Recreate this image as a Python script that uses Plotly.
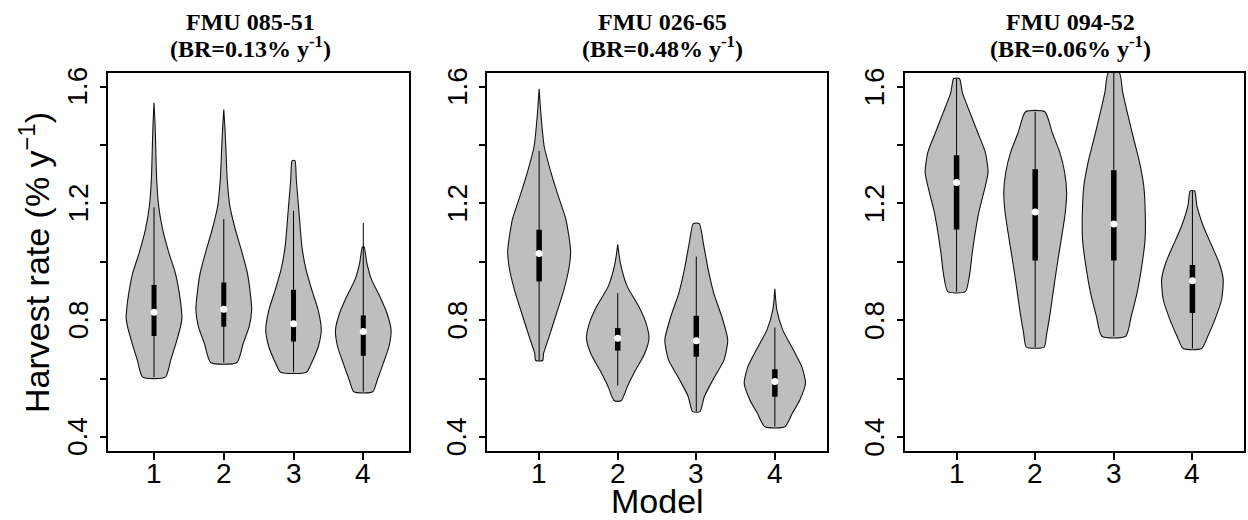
import plotly.graph_objects as go

# ---------------- data ----------------
models = [1, 2, 3, 4]
model_labels = ["1", "2", "3", "4"]
panel_names = ["FMU 085-51", "FMU 026-65", "FMU 094-52"]
panel_br = ["0.13", "0.48", "0.06"]
y_tick_vals = [0.4, 0.6, 0.8, 1.0, 1.2, 1.4, 1.6]
y_label_vals = [0.4, 0.8, 1.2, 1.6]
y_label_text = ["0.4", "0.8", "1.2", "1.6"]

# violin outlines: harvest-rate levels and half-widths (model-axis units)
fmu085_m1_y = [0.605, 0.664, 0.721, 0.778, 0.808, 0.836, 0.893, 0.962, 1.030, 1.110, 1.190, 1.282, 1.396, 1.470, 1.545]
fmu085_m1_w = [0.162, 0.240, 0.314, 0.380, 0.400, 0.393, 0.362, 0.305, 0.214, 0.124, 0.067, 0.038, 0.024, 0.015, 0.0]
fmu085_m2_y = [0.655, 0.721, 0.778, 0.836, 0.893, 0.962, 1.030, 1.110, 1.190, 1.282, 1.396, 1.460, 1.522]
fmu085_m2_w = [0.188, 0.279, 0.364, 0.400, 0.380, 0.338, 0.264, 0.167, 0.088, 0.050, 0.029, 0.016, 0.0]
fmu085_m3_y = [0.622, 0.653, 0.710, 0.767, 0.836, 0.904, 0.973, 1.053, 1.168, 1.282, 1.347]
fmu085_m3_w = [0.186, 0.257, 0.355, 0.398, 0.352, 0.262, 0.179, 0.120, 0.079, 0.040, 0.020]
fmu085_m4_y = [0.555, 0.596, 0.653, 0.710, 0.767, 0.824, 0.881, 0.939, 0.996, 1.051]
fmu085_m4_w = [0.136, 0.202, 0.288, 0.369, 0.398, 0.340, 0.238, 0.119, 0.052, 0.012]

fmu026_m1_y = [0.662, 0.687, 0.744, 0.824, 0.904, 0.984, 1.040, 1.145, 1.225, 1.305, 1.396, 1.511, 1.593]
fmu026_m1_w = [0.044, 0.057, 0.127, 0.222, 0.315, 0.383, 0.400, 0.341, 0.244, 0.152, 0.064, 0.021, 0.0]
fmu026_m2_y = [0.524, 0.573, 0.630, 0.687, 0.739, 0.790, 0.847, 0.916, 0.996, 1.059]
fmu026_m2_w = [0.044, 0.123, 0.229, 0.345, 0.398, 0.360, 0.269, 0.121, 0.034, 0.0]
fmu026_m3_y = [0.487, 0.538, 0.596, 0.664, 0.733, 0.813, 0.893, 0.973, 1.065, 1.131]
fmu026_m3_w = [0.047, 0.102, 0.212, 0.353, 0.400, 0.324, 0.222, 0.152, 0.089, 0.038]
fmu026_m4_y = [0.435, 0.481, 0.527, 0.584, 0.641, 0.698, 0.767, 0.836, 0.908]
fmu026_m4_w = [0.127, 0.222, 0.318, 0.390, 0.343, 0.237, 0.100, 0.025, 0.0]

fmu094_m1_y = [0.898, 0.963, 1.031, 1.100, 1.169, 1.237, 1.306, 1.375, 1.443, 1.512, 1.580, 1.628]
fmu094_m1_w = [0.112, 0.169, 0.199, 0.237, 0.282, 0.345, 0.400, 0.366, 0.269, 0.169, 0.074, 0.036]
fmu094_m2_y = [0.708, 0.757, 0.825, 0.917, 1.008, 1.100, 1.169, 1.237, 1.306, 1.375, 1.443, 1.514]
fmu094_m2_w = [0.112, 0.148, 0.191, 0.239, 0.290, 0.345, 0.383, 0.400, 0.375, 0.313, 0.216, 0.123]
fmu094_m3_y = [0.745, 0.814, 0.894, 0.986, 1.077, 1.169, 1.260, 1.340, 1.420, 1.500, 1.580, 1.649]
fmu094_m3_w = [0.152, 0.222, 0.296, 0.356, 0.398, 0.400, 0.381, 0.328, 0.254, 0.182, 0.114, 0.068]
fmu094_m4_y = [0.703, 0.746, 0.802, 0.871, 0.940, 0.997, 1.054, 1.123, 1.192, 1.243]
fmu094_m4_w = [0.118, 0.197, 0.286, 0.371, 0.392, 0.339, 0.248, 0.138, 0.057, 0.028]

# box statistics per model
fmu085_q1 = [0.746, 0.778, 0.727, 0.678]
fmu085_med = [0.827, 0.838, 0.788, 0.761]
fmu085_q3 = [0.921, 0.929, 0.904, 0.816]
fmu085_lo = [0.605, 0.655, 0.622, 0.555]
fmu085_hi = [1.187, 1.147, 1.175, 1.133]

fmu026_q1 = [0.933, 0.696, 0.675, 0.538]
fmu026_med = [1.029, 0.738, 0.730, 0.590]
fmu026_q3 = [1.110, 0.773, 0.815, 0.632]
fmu026_lo = [0.662, 0.576, 0.487, 0.436]
fmu026_hi = [1.380, 0.893, 1.018, 0.775]

fmu094_q1 = [1.111, 1.005, 1.005, 0.825]
fmu094_med = [1.272, 1.171, 1.130, 0.935]
fmu094_q3 = [1.365, 1.317, 1.314, 0.989]
fmu094_lo = [0.898, 0.708, 0.745, 0.703]
fmu094_hi = [1.628, 1.514, 1.649, 1.243]

violins = [
    [(fmu085_m1_y, fmu085_m1_w), (fmu085_m2_y, fmu085_m2_w), (fmu085_m3_y, fmu085_m3_w), (fmu085_m4_y, fmu085_m4_w)],
    [(fmu026_m1_y, fmu026_m1_w), (fmu026_m2_y, fmu026_m2_w), (fmu026_m3_y, fmu026_m3_w), (fmu026_m4_y, fmu026_m4_w)],
    [(fmu094_m1_y, fmu094_m1_w), (fmu094_m2_y, fmu094_m2_w), (fmu094_m3_y, fmu094_m3_w), (fmu094_m4_y, fmu094_m4_w)],
]
boxes = [
    (fmu085_q1, fmu085_med, fmu085_q3, fmu085_lo, fmu085_hi),
    (fmu026_q1, fmu026_med, fmu026_q3, fmu026_lo, fmu026_hi),
    (fmu094_q1, fmu094_med, fmu094_q3, fmu094_lo, fmu094_hi),
]

# ---------------- layout geometry ----------------
W, H = 1248, 520
plot_px = [(108.0, 409.3), (487.3, 826.7), (904.7, 1244.3)]
ytop_px, ybot_px = 72.7, 451.0
title_cx = [250, 662, 1070]
box_lw = [5, 5.5, 5.5]
ylab_offset_px = 30     # centre of rotated y tick labels, left of axis
xlab_center_px = 473    # centre of x tick labels

sans = "Liberation Sans, Arial, Helvetica, sans-serif"
serif = "Liberation Serif, Times New Roman, serif"

fig = go.Figure()

for p in range(3):
    xa = "x" if p == 0 else f"x{p+1}"
    ya = "y" if p == 0 else f"y{p+1}"
    q1s, meds, q3s, los, his = boxes[p]
    for m in range(4):
        ys, ws = violins[p][m]
        c = models[m]
        xs = [c + w for w in ws] + [c - w for w in reversed(ws)] + [c + ws[0]]
        yy = list(ys) + list(reversed(ys)) + [ys[0]]
        fig.add_trace(go.Scatter(
            x=xs, y=yy, xaxis=xa, yaxis=ya, mode="lines", fill="toself",
            fillcolor="#BEBEBE", line=dict(color="#111111", width=1.1, shape="spline", smoothing=0.6),
            hoverinfo="skip", showlegend=False))
        fig.add_trace(go.Scatter(
            x=[c, c], y=[los[m], his[m]], xaxis=xa, yaxis=ya, mode="lines",
            line=dict(color="black", width=1), hoverinfo="skip", showlegend=False))
        fig.add_trace(go.Scatter(
            x=[c, c], y=[q1s[m], q3s[m]], xaxis=xa, yaxis=ya, mode="lines",
            line=dict(color="black", width=box_lw[p]), hoverinfo="skip", showlegend=False))
        fig.add_trace(go.Scatter(
            x=[c], y=[meds[m]], xaxis=xa, yaxis=ya, mode="markers",
            marker=dict(color="white", size=7, line=dict(width=0)),
            hoverinfo="skip", showlegend=False))

layout = dict(
    width=W, height=H, margin=dict(l=0, r=0, t=0, b=0),
    paper_bgcolor="white", plot_bgcolor="white", showlegend=False,
)
ydom = [1 - ybot_px / H, 1 - ytop_px / H]
for p in range(3):
    xk = "xaxis" if p == 0 else f"xaxis{p+1}"
    yk = "yaxis" if p == 0 else f"yaxis{p+1}"
    x0, x1 = plot_px[p]
    layout[xk] = dict(
        domain=[x0 / W, x1 / W], range=[0.34, 4.66], anchor="y" if p == 0 else f"y{p+1}",
        tickvals=models, showticklabels=False,
        ticks="outside", ticklen=7, tickwidth=1.5, tickcolor="black",
        showline=True, mirror=True, linewidth=2, linecolor="black",
        showgrid=False, zeroline=False,
    )
    layout[yk] = dict(
        domain=ydom, range=[0.352, 1.648], anchor="x" if p == 0 else f"x{p+1}",
        tickvals=y_tick_vals, showticklabels=False,
        ticks="outside", ticklen=6, tickwidth=1.5, tickcolor="black",
        showline=True, mirror=True, linewidth=2, linecolor="black",
        showgrid=False, zeroline=False,
    )
fig.update_layout(**layout)

ann = []
for p in range(3):
    xr = "x" if p == 0 else f"x{p+1}"
    yr = "y" if p == 0 else f"y{p+1}"
    for m, lab in zip(models, model_labels):
        ann.append(dict(text=lab, x=m, xref=xr, y=1 - xlab_center_px / H, yref="paper",
                        xanchor="center", yanchor="middle", showarrow=False,
                        font=dict(family=sans, size=28, color="black")))
    for v, lab in zip(y_label_vals, y_label_text):
        ann.append(dict(text=lab, x=(plot_px[p][0] - ylab_offset_px) / W, xref="paper", y=v, yref=yr,
                        textangle=-90, xanchor="center", yanchor="middle", showarrow=False,
                        font=dict(family=sans, size=28, color="black")))
    ann.append(dict(text="<b>" + panel_names[p] + "</b>", x=title_cx[p] / W, y=1 - 22 / H,
                    xref="paper", yref="paper", xanchor="center", yanchor="middle", showarrow=False,
                    font=dict(family=serif, size=24, color="black")))
    ann.append(dict(text="<b>(BR=" + panel_br[p] + "% y<sup>-1</sup>)</b>", x=title_cx[p] / W, y=1 - 47 / H,
                    xref="paper", yref="paper", xanchor="center", yanchor="middle", showarrow=False,
                    font=dict(family=serif, size=24, color="black")))
ann.append(dict(text="Harvest rate (% y<sup>\u22121</sup>)", x=34 / W, y=1 - 263 / H, textangle=-90,
                xref="paper", yref="paper", xanchor="center", yanchor="middle", showarrow=False,
                font=dict(family=sans, size=34, color="black")))
ann.append(dict(text="Model", x=657 / W, y=1 - 501 / H,
                xref="paper", yref="paper", xanchor="center", yanchor="middle", showarrow=False,
                font=dict(family=sans, size=34, color="black")))
fig.update_layout(annotations=ann)

fig.write_html("out.html")
